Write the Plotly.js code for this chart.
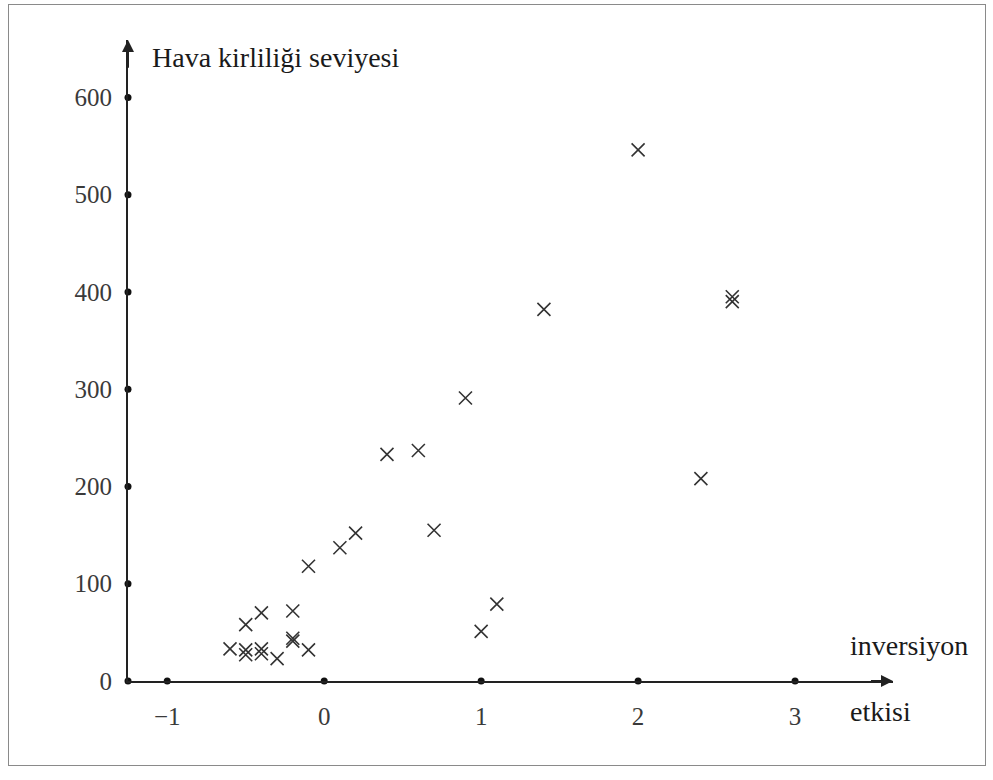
<!DOCTYPE html>
<html>
<head>
<meta charset="utf-8">
<script src="https://cdn.plot.ly/plotly-3.0.1.min.js"></script>
<style>
  html, body { margin: 0; padding: 0; background: #fff; }
  #frame { position: absolute; left: 8px; top: 4px; width: 976px; height: 760px; border: 1px solid #8a8a8a; }
  #chart { position: absolute; left: 0; top: 0; width: 993px; height: 780px; }
</style>
</head>
<body>
<div id="frame"></div>
<div id="chart"></div>
<script>
// Data
const inversion = [2.0, 1.4, 2.6, 2.6, 2.4, 0.9, 0.6, 0.4, 0.7, 0.2, 0.1, -0.1, 1.1, 1.0,
                   -0.6, -0.5, -0.5, -0.5, -0.4, -0.4, -0.4, -0.3, -0.2, -0.2, -0.2, -0.1];
const pollution = [546, 382, 395, 390, 208, 291, 237, 233, 155, 152, 137, 118, 79, 51,
                   33, 58, 32, 27, 70, 33, 28, 23, 72, 44, 41, 32];

const xTicks = [-1, 0, 1, 2, 3];
const xTickLabels = ['\u22121', '0', '1', '2', '3'];
const yTicks = [0, 100, 200, 300, 400, 500, 600];
const yTickLabels = ['0', '100', '200', '300', '400', '500', '600'];

const xMin = -1.25, xMax = 3.624;
const yMin = 0, yMax = 659;

const serif = 'Liberation Serif, Times New Roman, serif';

const traces = [
  {
    x: inversion, y: pollution, type: 'scatter', mode: 'markers',
    marker: { symbol: 'x-thin', size: 13, color: '#333', line: { width: 1.6, color: '#333' } },
    cliponaxis: false, hoverinfo: 'x+y'
  },
  {
    x: xTicks, y: xTicks.map(() => 0), type: 'scatter', mode: 'markers',
    marker: { symbol: 'circle', size: 7, color: '#111' }, cliponaxis: false, hoverinfo: 'skip'
  },
  {
    x: yTicks.map(() => xMin), y: yTicks, type: 'scatter', mode: 'markers',
    marker: { symbol: 'circle', size: 7, color: '#111' }, cliponaxis: false, hoverinfo: 'skip'
  }
];

const layout = {
  width: 993, height: 780,
  margin: { l: 128, r: 100, t: 40, b: 99 },
  paper_bgcolor: 'rgba(0,0,0,0)', plot_bgcolor: 'rgba(0,0,0,0)',
  showlegend: false,
  xaxis: {
    range: [xMin, xMax], showgrid: false, zeroline: false,
    showline: true, linecolor: '#222', linewidth: 2,
    tickmode: 'array', tickvals: xTicks, ticktext: xTickLabels,
    ticks: '', ticklabelstandoff: 12,
    tickfont: { family: serif, size: 25, color: '#3a3a3a' }
  },
  yaxis: {
    range: [yMin, yMax], showgrid: false, zeroline: false,
    showline: true, linecolor: '#222', linewidth: 2,
    tickmode: 'array', tickvals: yTicks, ticktext: yTickLabels,
    ticks: '', ticklabelstandoff: 9,
    tickfont: { family: serif, size: 25, color: '#3a3a3a' }
  },
  annotations: [
    { x: xMax, y: 0, ax: xMax - 0.15, ay: 0, xref: 'x', yref: 'y', axref: 'x', ayref: 'y',
      text: '', showarrow: true, arrowhead: 2, arrowsize: 1.2, arrowwidth: 2, arrowcolor: '#222' },
    { x: xMin, y: yMax, ax: xMin, ay: yMax - 30, xref: 'x', yref: 'y', axref: 'x', ayref: 'y',
      text: '', showarrow: true, arrowhead: 2, arrowsize: 1.2, arrowwidth: 2, arrowcolor: '#222' },
    { x: 0.029, y: 0.972, xref: 'paper', yref: 'paper', xanchor: 'left', yanchor: 'middle',
      text: 'Hava kirliliği seviyesi', showarrow: false,
      font: { family: serif, size: 28, color: '#1a1a1a' } },
    { x: 0.941, y: 0.056, xref: 'paper', yref: 'paper', xanchor: 'left', yanchor: 'middle',
      text: 'inversiyon', showarrow: false,
      font: { family: serif, size: 28, color: '#1a1a1a' } },
    { x: 0.941, y: -0.048, xref: 'paper', yref: 'paper', xanchor: 'left', yanchor: 'middle',
      text: 'etkisi', showarrow: false,
      font: { family: serif, size: 28, color: '#1a1a1a' } }
  ]
};

Plotly.newPlot('chart', traces, layout, { displayModeBar: false, staticPlot: true });
</script>
</body>
</html>
